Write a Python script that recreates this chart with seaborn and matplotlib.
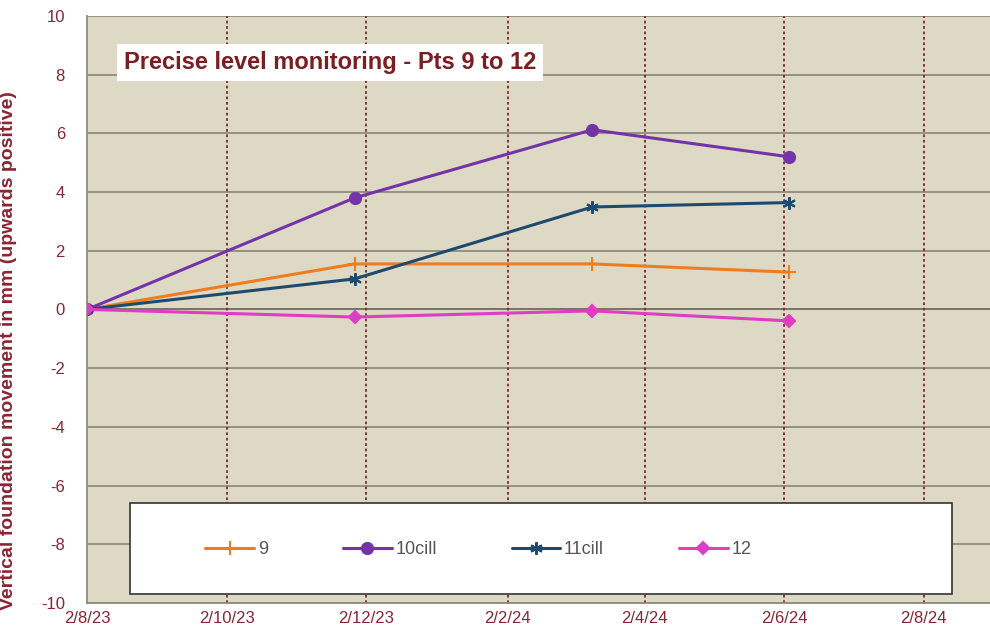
import matplotlib
matplotlib.use("Agg")
import matplotlib.pyplot as plt
from matplotlib.patches import Rectangle
import seaborn as sns
import pandas as pd

# survey dates and readings (mm, upwards positive)
survey_dates = ["2023-08-02", "2023-11-27", "2024-03-10", "2024-06-04"]
pt9 = [0.0, 1.55, 1.55, 1.27]
pt10cill = [0.0, 3.80, 6.12, 5.20]
pt11cill = [0.0, 1.04, 3.49, 3.64]
pt12 = [0.0, -0.26, -0.05, -0.39]

series_names = ["9", "10cill", "11cill", "12"]
series_colors = ["#EE7D1F", "#7434A8", "#1F4A70", "#E03CC4"]
series_markers = ["+", "o", (6, 2, 0), "D"]
marker_sizes = [10, 8, 9, 6]

tick_dates = ["2023-08-02", "2023-10-02", "2023-12-02", "2024-02-02",
              "2024-04-02", "2024-06-02", "2024-08-02"]
tick_labels = ["2/8/23", "2/10/23", "2/12/23", "2/2/24", "2/4/24", "2/6/24", "2/8/24"]
y_ticks = list(range(-10, 11, 2))

df = pd.DataFrame({
    "date": pd.to_datetime(survey_dates * 4),
    "movement": pt9 + pt10cill + pt11cill + pt12,
    "point": [n for n in series_names for _ in survey_dates],
})

sns.set_style("white")
plt.rcParams["font.family"] = ["Liberation Sans", "DejaVu Sans"]
plt.rcParams["axes.unicode_minus"] = False

maroon = "#8A2432"
fig = plt.figure(figsize=(9.9, 6.36), dpi=100)
ax = fig.add_axes([0.088, 0.052, 0.912, 0.923])
ax.set_facecolor("#DDD9C4")

# grid
for yv in y_ticks:
    ax.axhline(yv, color="#8E8C7C" if yv != 0 else "#6E6C60", lw=1.3, zorder=1)
for d in pd.to_datetime(tick_dates[1:]):
    ax.axvline(d, color="#7A2A2A", lw=1.3, ls=(0, (1.5, 1.5)), zorder=1)

for name, col, mk, ms in zip(series_names, series_colors, series_markers, marker_sizes):
    sub = df[df["point"] == name]
    sns.lineplot(data=sub, x="date", y="movement", ax=ax, color=col, lw=2.2,
                 marker=mk, markersize=ms, markeredgecolor=col,
                 markeredgewidth=1.5, label=name, zorder=3)

ax.set_xlim(pd.Timestamp("2023-08-02"), pd.Timestamp("2024-08-31"))
ax.set_ylim(-10, 10)
ax.set_xticks(pd.to_datetime(tick_dates))
ax.set_xticklabels(tick_labels)
ax.set_yticks(y_ticks)
ax.tick_params(axis="both", colors=maroon, labelsize=12, length=0)
ax.tick_params(axis="y", pad=16)
ax.tick_params(axis="x", pad=6)
ax.set_xlabel("")
ax.set_ylabel("Vertical foundation movement in mm (upwards positive)",
              color=maroon, fontsize=14, fontweight="bold")
ax.yaxis.set_label_coords(-0.078, 0.43)
for s in ["top", "right"]:
    ax.spines[s].set_visible(False)
for s in ["left", "bottom"]:
    ax.spines[s].set_color("#8E8C7C")
    ax.spines[s].set_linewidth(1.3)

# title box
ax.text(0.269, 0.921, "Precise level monitoring - Pts 9 to 12",
        transform=ax.transAxes, ha="center", va="center", fontsize=17,
        fontweight="bold", color="#7A1E22", zorder=5,
        bbox=dict(boxstyle="square,pad=0.3", fc="white", ec="none"))

# legend box
ax.add_patch(Rectangle((0.0476, 0.015), 0.91, 0.156, transform=ax.transAxes,
                       facecolor="white", edgecolor="#333333", lw=1.2, zorder=4))
leg = ax.legend(loc="center left", bbox_to_anchor=(0.131, 0.091), ncol=4,
                frameon=False, fontsize=13, handlelength=2.7,
                handletextpad=0.2, columnspacing=4.15, borderpad=0,
                borderaxespad=0)
leg.set_zorder(6)
for t in leg.get_texts():
    t.set_color("#555555")

fig.savefig("out.png", dpi=100, facecolor="white")
